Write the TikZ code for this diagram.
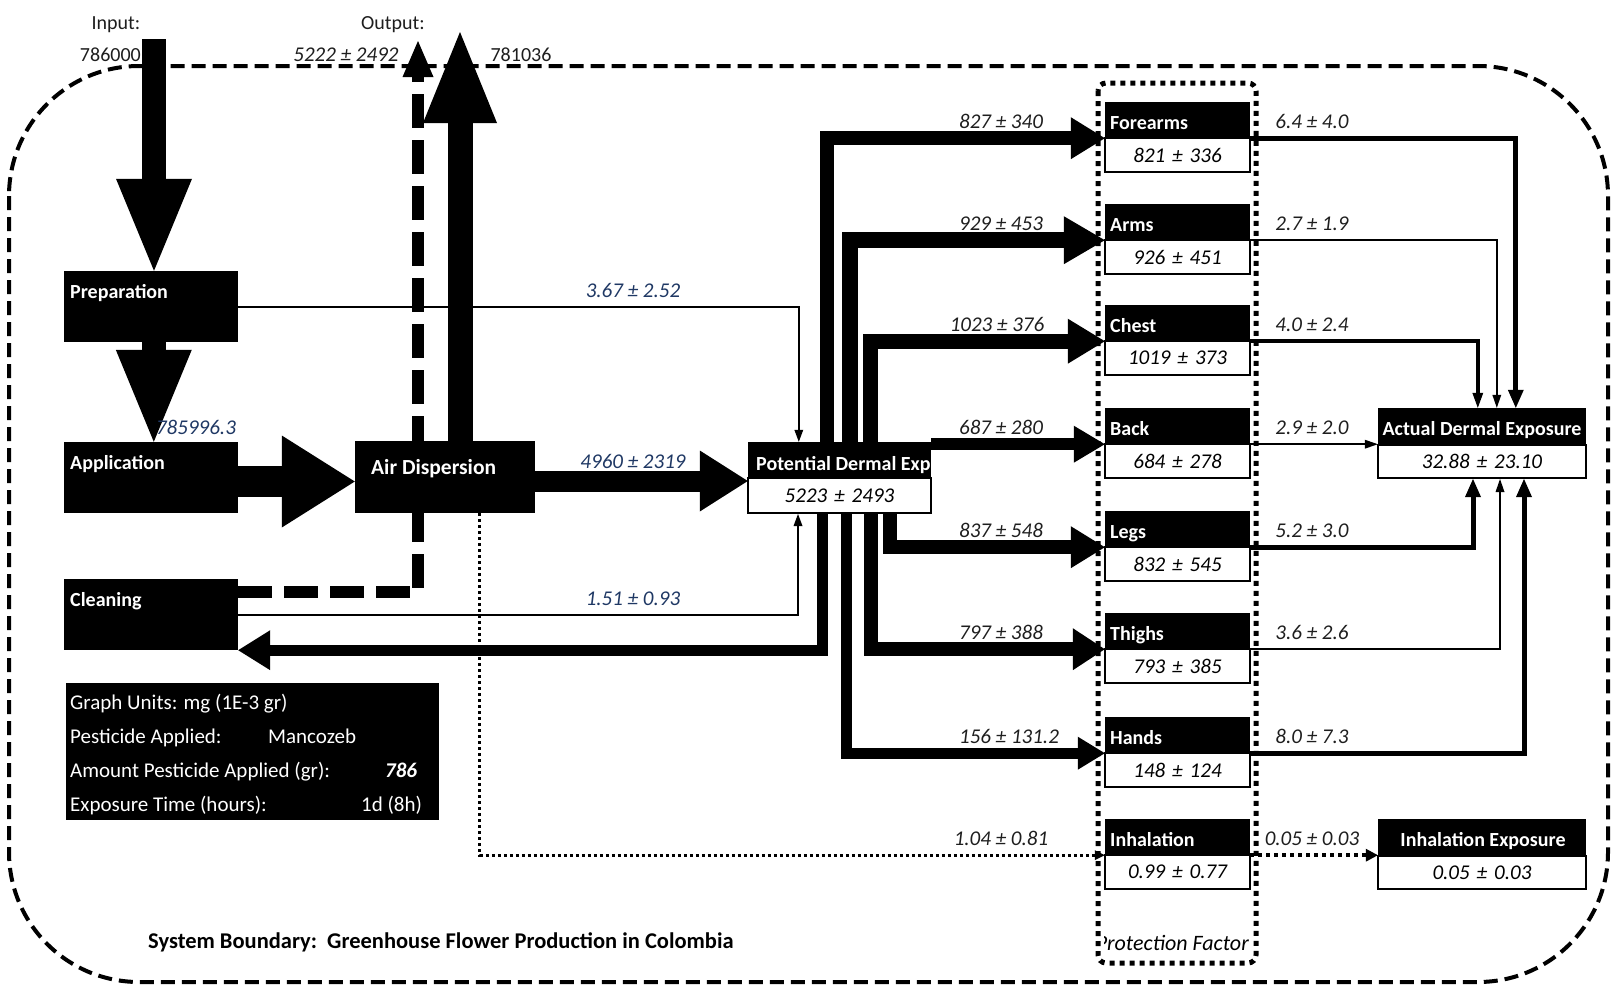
\documentclass[tikz,border=0pt]{standalone}
\usepackage{fontspec}
\setmainfont{Carlito}
\usetikzlibrary{arrows.meta,backgrounds}
\definecolor{navy}{RGB}{31,56,100}
\definecolor{darktext}{RGB}{30,30,30}
\newcommand\ttlfont{\fontsize{20pt}{24pt}\selectfont\bfseries}
\newcommand\numfont{\fontsize{21pt}{25pt}\selectfont\itshape}
\newcommand\infofont{\fontsize{21pt}{25pt}\selectfont}
\newcommand\pmv[2]{#1\hspace{7pt}±\hspace{7pt}#2}

\begin{document}
\begin{tikzpicture}[x=1pt, y=-1pt,
  blk/.style={shape=rectangle, fill=black, inner sep=0pt},
  band/.style={blk, minimum width=145pt, minimum height=36pt},
  valbox/.style={shape=rectangle, draw=black, line width=2pt, fill=white, inner sep=0pt,
                 minimum width=145pt, minimum height=34pt, font=\numfont},
  ttl/.style={anchor=base west, inner sep=0pt, text=white, font=\ttlfont},
  infotxt/.style={anchor=base west, inner sep=0pt, text=white, font=\infofont},
  flow/.style={anchor=base, inner sep=0pt, font=\numfont, text=darktext},
  plain/.style={anchor=base, inner sep=0pt, font=\fontsize{20pt}{24pt}\selectfont, text=darktext},
  flowarr/.style n args={3}{line width=#1pt, line join=miter,
                 -{Triangle[length=#2pt, width=#3pt, line width=0pt]}}]
\useasboundingbox (0,0) rectangle (1622,991);

% system boundary and protection factor
\draw[line width=4pt, dash pattern=on 14pt off 7pt, rounded corners=130pt] (9,66) rectangle (1608,982);
\draw[line width=5pt, dash pattern=on 5pt off 5pt, rounded corners=8pt] (1098,83) rectangle (1256,963);

% process boxes
\node[blk, minimum width=174pt, minimum height=71pt] (prep) at (151,306.5) {};
\node[ttl] (preptxt) at (70,298) {Preparation};
\node[blk, minimum width=174pt, minimum height=71pt] (app) at (151,477.5) {};
\node[ttl] (apptxt) at (70,469) {Application};
\node[blk, minimum width=174pt, minimum height=71pt] (clean) at (151,614.5) {};
\node[ttl] (cleantxt) at (70,606) {Cleaning};
\node[blk, minimum width=180pt, minimum height=72pt] (air) at (445,477) {};
\node[ttl, font=\fontsize{21.5pt}{25pt}\selectfont\bfseries] (airtxt) at (371,474) {Air Dispersion};

\node[blk, minimum width=183pt, minimum height=36pt] (pde) at (839.5,460) {};
\node[ttl] (pdetxt) at (756,470) {Potential Dermal Exp};
\node[valbox, minimum width=183pt, minimum height=35pt] (pdeval) at (839.5,495.5) {\pmv{5223}{2493}};

% body parts
\node[band] (fore) at (1177.5,120) {};
\node[ttl] (foretxt) at (1110,129) {Forearms};
\node[valbox] (foreval) at (1177.5,155) {\pmv{821}{336}};
\node[band] (arms) at (1177.5,222) {};
\node[ttl] (armstxt) at (1110,231) {Arms};
\node[valbox] (armsval) at (1177.5,257) {\pmv{926}{451}};
\node[band] (chest) at (1177.5,323) {};
\node[ttl] (chesttxt) at (1110,332) {Chest};
\node[valbox] (chestval) at (1177.5,358) {\pmv{1019}{373}};
\node[band] (back) at (1177.5,426) {};
\node[ttl] (backtxt) at (1110,435) {Back};
\node[valbox] (backval) at (1177.5,461) {\pmv{684}{278}};
\node[band] (legs) at (1177.5,529) {};
\node[ttl] (legstxt) at (1110,538) {Legs};
\node[valbox] (legsval) at (1177.5,564) {\pmv{832}{545}};
\node[band] (thighs) at (1177.5,631) {};
\node[ttl] (thighstxt) at (1110,640) {Thighs};
\node[valbox] (thighsval) at (1177.5,666) {\pmv{793}{385}};
\node[band] (hands) at (1177.5,735) {};
\node[ttl] (handstxt) at (1110,744) {Hands};
\node[valbox] (handsval) at (1177.5,770) {\pmv{148}{124}};
\node[band] (inh) at (1177.5,837) {};
\node[ttl] (inhtxt) at (1110,846) {Inhalation};
\node[valbox] (inhval) at (1177.5,872) {\pmv{0.99}{0.77}};

% exposures
\node[band, minimum width=208pt, minimum height=37pt] (ade) at (1482,426.5) {};
\node[ttl, anchor=base] (adetxt) at (1482,435) {Actual Dermal Exposure};
\node[valbox, minimum width=208pt, minimum height=33pt] (adeval) at (1482,461.5) {\pmv{32.88}{23.10}};
\node[band, minimum width=208pt, minimum height=37pt] (ie) at (1482,837.5) {};
\node[ttl, anchor=base] (ietxt) at (1483,846) {Inhalation Exposure};
\node[valbox, minimum width=208pt, minimum height=33pt] (ieval) at (1482,872.5) {\pmv{0.05}{0.03}};

% info box
\node[blk, minimum width=373pt, minimum height=137pt] (info) at (252.5,751.5) {};
\node[infotxt] (units) at (70,709) {Graph Units: mg (1E-3 gr)};
\node[infotxt] (pest) at (70,743) {Pesticide Applied:};
\node[infotxt] (pestname) at (268,743) {Mancozeb};
\node[infotxt] (amount) at (70,777) {Amount Pesticide Applied (gr):};
\node[infotxt, font=\infofont\bfseries\itshape] (amountval) at (385,777) {786};
\node[infotxt] (time) at (70,811) {Exposure Time (hours):};
\node[infotxt] (timeval) at (361,811) {1d (8h)};

\node[anchor=base west, inner sep=0pt, font=\fontsize{22.5pt}{26pt}\selectfont\bfseries] (sysb)
  at (148,948) {System Boundary:\ \ Greenhouse Flower Production in Colombia};
\begin{scope}
\clip (1104,900) rectangle (1256,963);
\node[flow, anchor=base east, text=black, font=\fontsize{22pt}{26pt}\selectfont\itshape] (protf)
  at (1249,950) {Protection Factor};
\end{scope}

% inputs and outputs
\node[plain] (intxt) at (116,29) {Input:};
\node[plain, anchor=base east] (inval) at (141,61) {786000};
\node[plain] (outtxt) at (393,29) {Output:};
\node[flow] (outdval) at (346,61) {5222 ± 2492};
\node[plain] (outbval) at (521,61) {781036};
\coordinate (inp) at (154,39);
\coordinate (outd) at (418,41);
\coordinate (outb) at (460,32);

\begin{scope}[on background layer]
\draw[flowarr={12}{36}{31}, dash pattern=on 34pt off 12pt] ([yshift=-13pt]clean.north east) -| (outd);
\end{scope}

\draw[flowarr={24}{92}{76}] (inp) -- (inp |- prep.north);
\draw[flowarr={24}{92}{76}] ([xshift=90pt]prep.south west) -- ([xshift=90pt]app.north west);
\draw[flowarr={31}{73}{92}] ([yshift=-4pt]app.east) -- ([yshift=-4pt]app.east -| air.west);
\draw[flowarr={21}{48}{61}] ([yshift=-4pt]air.east) -- ([yshift=-4pt]air.east -| pde.west);
\draw[flowarr={25}{91}{74}] (outb |- air.north) -- (outb);

% potential dermal exposure to body parts
\draw[flowarr={14}{34}{42}] ([xshift=79pt]pde.north west) |- (fore.south west);
\draw[flowarr={16}{41}{48}] ([xshift=102pt]pde.north west) |- (arms.south west);
\draw[flowarr={15}{37}{45}] ([xshift=123pt]pde.north west) |- (chest.south west);
\draw[flowarr={12}{31}{37}] (pde.east |- back.south west) -- (back.south west);
\draw[flowarr={14}{34}{42}] ([xshift=143pt]pdeval.south west) |- (legs.south west);
\draw[flowarr={14}{32}{42}] ([xshift=124pt]pdeval.south west) |- (thighs.south west);
\draw[flowarr={11}{27}{33}] ([xshift=99pt]pdeval.south west) |- (hands.south west);
\draw[flowarr={11}{32}{40}] ([xshift=75pt]pdeval.south west) |- (clean.south east);

\draw[flowarr={2}{12}{9}] (prep.east) -| ([xshift=51pt]pde.north west);
\draw[flowarr={2}{12}{9}] (clean.east) -| ([xshift=51pt]pdeval.south west);
\draw[flowarr={3}{10}{10}, dash pattern=on 3pt off 3pt] ([xshift=125pt]air.south west) |- (inh.south west);

% body parts to exposures
\draw[flowarr={5}{18}{16}] (fore.south east) -| ([xshift=138pt]ade.north west);
\draw[flowarr={2}{13}{9}] (arms.south east) -| ([xshift=119pt]ade.north west);
\draw[flowarr={3.5}{15}{11}] (chest.south east) -| ([xshift=100pt]ade.north west);
\draw[flowarr={2}{13}{9}] (back.south east) -- (back.south east -| ade.west);
\draw[flowarr={5}{18}{16}] (legs.south east) -| ([xshift=96pt]adeval.south west);
\draw[flowarr={2}{13}{9}] (thighs.south east) -| ([xshift=123pt]adeval.south west);
\draw[flowarr={5}{18}{16}] (hands.south east) -| ([xshift=147pt]adeval.south west);
\draw[flowarr={4}{12}{13}, dash pattern=on 4pt off 4pt] (inh.south east) -- (inh.south east -| ie.west);

% flow labels
\node[flow, text=navy] (prepl) at (633,297) {3.67 ± 2.52};
\node[flow, text=navy] (airl) at (633,468) {4960 ± 2319};
\node[flow, text=navy] (cleanl) at (633,605) {1.51 ± 0.93};
\node[flow, text=navy] (appl) at (196,434) {785996.3};
\node[flow] (forel) at (1001,128) {827 ± 340};
\node[flow] (armsl) at (1001,230) {929 ± 453};
\node[flow] (chestl) at (997,331) {1023 ± 376};
\node[flow] (backl) at (1001,434) {687 ± 280};
\node[flow] (legsl) at (1001,537) {837 ± 548};
\node[flow] (thighsl) at (1001,639) {797 ± 388};
\node[flow] (handsl) at (1009,743) {156 ± 131.2};
\node[flow] (inhl) at (1001,845) {1.04 ± 0.81};
\node[flow] (foreo) at (1312,128) {6.4 ± 4.0};
\node[flow] (armso) at (1312,230) {2.7 ± 1.9};
\node[flow] (chesto) at (1312,331) {4.0 ± 2.4};
\node[flow] (backo) at (1312,434) {2.9 ± 2.0};
\node[flow] (legso) at (1312,537) {5.2 ± 3.0};
\node[flow] (thighso) at (1312,639) {3.6 ± 2.6};
\node[flow] (handso) at (1312,743) {8.0 ± 7.3};
\node[flow] (inho) at (1312,845) {0.05 ± 0.03};
\end{tikzpicture}
\end{document}
